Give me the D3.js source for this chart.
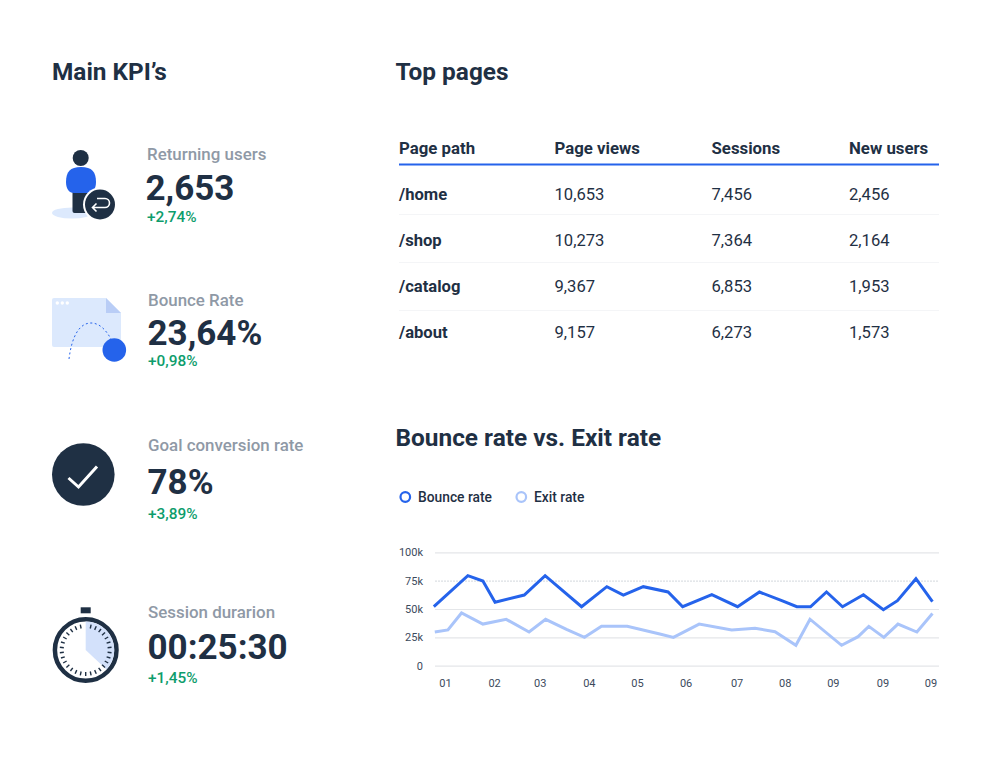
<!DOCTYPE html>
<html><head><meta charset="utf-8">
<script src="https://cdn.jsdelivr.net/npm/d3@7"></script>
<style>html,body{margin:0;background:#fff}svg{display:block}text{font-family:Roboto,sans-serif}</style>
</head><body><div id="c"></div>
<script>
const tableHeaders = ["Page path","Page views","Sessions","New users"];
const pagePaths = ["/home","/shop","/catalog","/about"];
const pageViews = ["10,653","10,273","9,367","9,157"];
const pageSessions = ["7,456","7,364","6,853","6,273"];
const pageNewUsers = ["2,456","2,164","1,953","1,573"];
const kpiLabels = ["Returning users","Bounce Rate","Goal conversion rate","Session durarion"];
const kpiValues = ["2,653","23,64%","78%","00:25:30"];
const kpiDeltas = ["+2,74%","+0,98%","+3,89%","+1,45%"];
const yTicks = [0,25,50,75,100];
const xTickLabels = ["01","02","03","04","05","06","07","08","09","09","09"];
const xTickPos = [0,1.01,1.95,2.96,3.95,4.95,6,6.99,7.98,9,9.99];
const bounceX = [-.23,.47,.78,1.03,1.63,2.06,2.81,3.33,3.67,4.08,4.59,4.89,5.49,6.02,6.47,6.93,7.24,7.52,7.85,8.18,8.61,9.02,9.31,9.69,10.03];
const bounceY = [52,79.4,74.7,56,62.3,79.4,52,69.7,62.3,69.7,65,52,62.6,52,65,57.3,52,52,65,52,62.6,49.4,57.3,76.7,56.4];
const exitX = [-.21,.06,.34,.78,1.26,1.73,2.07,2.5,2.87,3.22,3.75,4.42,4.7,5.23,5.9,6.38,6.79,7.22,7.51,8.16,8.5,8.72,9.03,9.32,9.71,10.03];
const exitY = [29.7,31.5,46.5,36.7,40.9,29.7,40.9,32,25,34.7,34.7,28,25,36.7,31.5,33,30,18,41,18,25.6,34.7,25,36.7,29.7,46];

const DARK="#1f3044",BLUE="#2563eb",LIGHT="#a9c4fa",PALE="#dce9fd",GRAY="#8f99a6",GREEN="#0e9d6c";
const svg=d3.select("#c").append("svg").attr("width",992).attr("height",763).attr("viewBox","0 0 992 763");
svg.append("rect").attr("width",992).attr("height",763).attr("fill","#fff");
function txt(x,y,s,size,weight,fill,anchor){return svg.append("text").attr("x",x).attr("y",y).attr("font-size",size).attr("font-weight",weight).attr("fill",fill).attr("text-anchor",anchor||"start").text(s);}

// titles
txt(52,80,"Main KPI’s",24.4,700,DARK);
txt(395.5,80,"Top pages",24.4,700,DARK);
txt(395.5,446,"Bounce rate vs. Exit rate",24.4,700,DARK);

// KPI text
const kpiX=[147,148,148,148], lblY=[160,306,451,618], valY=[200,345,494,659], dY=[222,366,519,683];
kpiLabels.forEach((l,i)=>{
  txt(kpiX[i],lblY[i],l,16.9,500,GRAY);
  txt(kpiX[i]-(i==0?1.5:0.5),valY[i],kpiValues[i],35,700,DARK);
  txt(kpiX[i],dY[i],kpiDeltas[i],15.4,500,GREEN);
});

// Icons
const ic1=svg.append("g");
ic1.append("ellipse").attr("cx",72).attr("cy",213).attr("rx",20).attr("ry",5.5).attr("fill",PALE);
ic1.append("rect").attr("x",72.5).attr("y",188).attr("width",17).attr("height",25).attr("rx",2).attr("fill",DARK);
ic1.append("path").attr("d","M66 182C66 172 70 167 81 167C92 167 96 172 96 182C96 190 92 193 88 193H74C70 193 66 190 66 182z").attr("fill",BLUE);
ic1.append("circle").attr("cx",80.7).attr("cy",158).attr("r",8).attr("fill",DARK);
ic1.append("circle").attr("cx",100).attr("cy",204.5).attr("r",17).attr("fill","#fff");
ic1.append("circle").attr("cx",100).attr("cy",204.5).attr("r",15).attr("fill",DARK);
ic1.append("path").attr("d","M93 207.5h12a4.5 4.5 0 0 0 0-9h-8M96.5 203.5l-4 4 4 4").attr("fill","none").attr("stroke","#fff").attr("stroke-width",1.6);

const ic2=svg.append("g");
ic2.append("path").attr("d","M54 298h52l15 15v32a2 2 0 0 1-2 2H54a2 2 0 0 1-2-2V300a2 2 0 0 1 2-2z").attr("fill",PALE);
ic2.append("path").attr("d","M106 298l15 15h-15z").attr("fill","#b9cdf6");
[57.3,62.3,67.3].forEach(x=>ic2.append("circle").attr("cx",x).attr("cy",303).attr("r",1.7).attr("fill","#fff"));
ic2.append("path").attr("d","M69 359C72 335 80 323 91 323C100 323 107 331 112 341").attr("fill","none").attr("stroke",BLUE).attr("stroke-width",1).attr("stroke-dasharray","2 2.5");
ic2.append("circle").attr("cx",114.3).attr("cy",350).attr("r",11.8).attr("fill",BLUE);

const ic3=svg.append("g");
ic3.append("circle").attr("cx",83.3).attr("cy",474.5).attr("r",31.3).attr("fill",DARK);
ic3.append("path").attr("d","M68.5 478l10 9 18.5-20.5").attr("fill","none").attr("stroke","#fff").attr("stroke-width",3);

const ic4=svg.append("g").attr("transform","translate(85.7,650)");
ic4.append("rect").attr("x",-5).attr("y",-42.7).attr("width",10).attr("height",6).attr("fill",DARK);
ic4.append("circle").attr("r",30.8).attr("fill","#fff").attr("stroke",DARK).attr("stroke-width",4.5);
ic4.append("path").attr("d",d3.arc()({innerRadius:0,outerRadius:28.5,startAngle:0,endAngle:Math.PI*0.74})).attr("fill","#d3e1fb");
d3.range(0,360,12).forEach(a=>{
  if(a===0)return;
  ic4.append("line").attr("y1",-26).attr("y2",-22).attr("stroke",DARK).attr("stroke-width",1.4).attr("transform",`rotate(${a})`);
});

// Table
const colX=[399,554.5,711.5,849], rowY=[200,245.7,291.5,337.5], sepY=[214.5,262.5,310.5];
tableHeaders.forEach((h,i)=>txt(colX[i],154,h,16.8,700,DARK));
svg.append("line").attr("x1",399).attr("x2",939).attr("y1",164.5).attr("y2",164.5).attr("stroke",BLUE).attr("stroke-width",2);
pagePaths.forEach((p,i)=>{
  txt(colX[0],rowY[i],p,16.6,700,DARK);
  txt(colX[1],rowY[i],pageViews[i],16.6,400,DARK);
  txt(colX[2],rowY[i],pageSessions[i],16.6,400,DARK);
  txt(colX[3],rowY[i],pageNewUsers[i],16.6,400,DARK);
});
sepY.forEach(s=>svg.append("line").attr("x1",399).attr("x2",939).attr("y1",s).attr("y2",s).attr("stroke","#f4f5f7"));

// Legend
svg.append("circle").attr("cx",405.3).attr("cy",497).attr("r",4.8).attr("fill","#fff").attr("stroke",BLUE).attr("stroke-width",2.2);
txt(418,502,"Bounce rate",13.8,500,DARK);
svg.append("circle").attr("cx",521.3).attr("cy",497).attr("r",4.8).attr("fill","#fff").attr("stroke",LIGHT).attr("stroke-width",2.2);
txt(534,502,"Exit rate",13.8,500,DARK);

// Chart
const x=d3.scaleLinear().domain([0,10]).range([445,931]);
const y=d3.scaleLinear().domain([0,100]).range([665.7,552.3]);
const gy=svg.append("g").attr("transform","translate(435,0)").call(d3.axisLeft(y).tickValues(yTicks).tickSize(0).tickPadding(12).tickFormat(d=>d?d+"k":"0"));
gy.select(".domain").remove();
gy.selectAll("text").attr("font-size",11).attr("fill","#3c4a5c").attr("font-family","Roboto,sans-serif");
gy.selectAll(".tick").append("line").attr("x1",0).attr("x2",504).attr("stroke",d=>d===75?"#dcdfe3":"#e4e6e9").attr("stroke-width",1.2).attr("stroke-dasharray",d=>d===75?"2 1":null);
const gx=svg.append("g").attr("transform","translate(0,672)").call(d3.axisBottom(x).tickValues(xTickPos).tickSize(0).tickPadding(7).tickFormat((d,i)=>xTickLabels[i]));
gx.select(".domain").remove();
gx.selectAll("text").attr("font-size",11).attr("fill","#3c4a5c").attr("font-family","Roboto,sans-serif");
const line=d3.line().x(d=>x(d[0])).y(d=>y(d[1]));
svg.append("path").datum(d3.zip(exitX,exitY)).attr("d",line).attr("fill","none").attr("stroke",LIGHT).attr("stroke-width",3);
svg.append("path").datum(d3.zip(bounceX,bounceY)).attr("d",line).attr("fill","none").attr("stroke",BLUE).attr("stroke-width",3);
</script></body></html>
